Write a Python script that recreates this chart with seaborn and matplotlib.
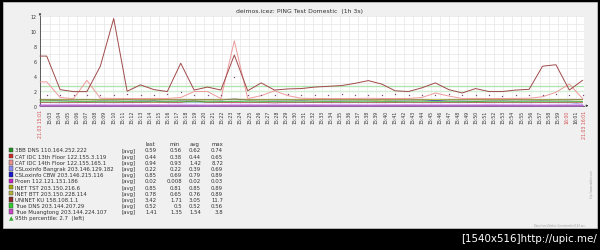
import numpy as np
import pandas as pd
import matplotlib
matplotlib.use("Agg")
import matplotlib.pyplot as plt
import seaborn as sns
from matplotlib.patches import Rectangle

sns.set_theme(style="white")
plt.rcParams['font.family'] = ['DejaVu Sans']

# ---------------- data ----------------
title = "deimos.icez: PING Test Domestic  (1h 3s)"
start_label = "21.03 15:01"
end_label = "21.03 16:01"
minute_labels = [f"15:{m:02d}" for m in range(3, 60)] + ["16:00", "16:01"]
minute_offset = 1.9

series_names = [
    "3BB DNS 110.164.252.222", "CAT IDC 13th Floor 122.155.3.119",
    "CAT IDC 14th Floor 122.155.165.1", "CSLoxinfo Bangrak 203.146.129.182",
    "CSLoxinfo CBW 203.146.215.116", "Proen 112.121.151.186",
    "INET TST 203.150.216.6", "INET BTT 203.150.228.114",
    "UNINET KU 158.108.1.1", "True DNS 203.144.207.29",
    "True Muangtong 203.144.224.107",
]
series_colors = ["#1f8f1f", "#d02828", "#e89292", "#8c8cf0", "#1818c8", "#c820c8",
                 "#a8a800", "#b4b43c", "#8c2a2a", "#2ccc2c", "#c848c8"]
line_colors = {"UNINET KU 158.108.1.1": "#a04a4a", "CAT IDC 14th Floor 122.155.165.1": "#ee9a9a",
               "Proen 112.121.151.186": "#b868d0"}
stat_last = ["0.59", "0.44", "0.94", "0.22", "0.85", "0.02", "0.85", "0.78", "3.42", "0.52", "1.41"]
stat_min = ["0.56", "0.38", "0.93", "0.22", "0.69", "0.008", "0.81", "0.65", "1.71", "0.5", "1.35"]
stat_avg = ["0.62", "0.44", "1.42", "0.39", "0.79", "0.02", "0.85", "0.76", "3.05", "0.52", "1.54"]
stat_max = ["0.74", "0.65", "8.72", "0.69", "0.89", "0.03", "0.89", "0.89", "11.7", "0.56", "3.8"]
percentile_value = 2.7
second_band = 2.0

uninet = [6.66, 2.16, 1.89, 1.89, 5.3, 11.7, 1.94, 2.8, 2.16, 1.9,
          5.7, 2.1, 2.5, 2.1, 6.8, 2.0, 3.06, 2.1, 2.25, 2.3,
          2.5, 2.6, 2.7, 3.0, 3.37, 2.9, 2.0, 1.9, 2.4, 3.06,
          2.16, 1.71, 2.3, 1.9, 1.9, 2.1, 2.2, 5.3, 5.5, 2.1, 3.42]
cat14 = [3.2, 1.1, 0.95, 3.4, 1.0, 0.98, 0.97, 0.96, 0.98, 0.97,
         1.1, 1.9, 1.9, 0.95, 8.72, 0.95, 1.35, 2.0, 1.35, 1.0,
         0.98, 0.96, 0.97, 0.98, 1.0, 0.97, 0.96, 0.98, 1.1, 1.7,
         1.3, 0.97, 0.98, 0.96, 0.97, 0.98, 1.0, 1.2, 1.8, 2.9, 0.94]
bb3 = [0.74, 0.65, 0.62, 0.6, 0.62, 0.63, 0.6, 0.61, 0.62, 0.6,
       0.63, 0.62, 0.61, 0.6, 0.62, 0.64, 0.61, 0.6, 0.62, 0.63,
       0.62, 0.6, 0.61, 0.62, 0.63, 0.61, 0.6, 0.62, 0.64, 0.62,
       0.61, 0.6, 0.56, 0.62, 0.63, 0.61, 0.62, 0.64, 0.63, 0.61, 0.59]
cat13 = [0.45, 0.44, 0.43, 0.44, 0.46, 0.44, 0.42, 0.44, 0.45, 0.43,
         0.44, 0.65, 0.44, 0.43, 0.44, 0.45, 0.44, 0.38, 0.44, 0.45,
         0.44, 0.43, 0.44, 0.45, 0.44, 0.43, 0.44, 0.46, 0.44, 0.43,
         0.44, 0.45, 0.44, 0.43, 0.44, 0.45, 0.44, 0.43, 0.44, 0.45, 0.44]
csl_bangrak = [0.4, 0.38, 0.39, 0.41, 0.4, 0.38, 0.39, 0.4, 0.69, 0.39,
               0.38, 0.4, 0.39, 0.41, 0.38, 0.39, 0.4, 0.38, 0.39, 0.4,
               0.41, 0.39, 0.38, 0.4, 0.39, 0.38, 0.41, 0.4, 0.39, 0.38,
               0.4, 0.39, 0.41, 0.38, 0.4, 0.39, 0.38, 0.4, 0.39, 0.38, 0.22]
csl_cbw = [0.8, 0.78, 0.79, 0.81, 0.78, 0.79, 0.8, 0.77, 0.79, 0.8,
           0.78, 0.79, 0.81, 0.78, 0.89, 0.79, 0.8, 0.78, 0.79, 0.77,
           0.8, 0.79, 0.78, 0.8, 0.79, 0.81, 0.78, 0.79, 0.8, 0.69,
           0.79, 0.78, 0.8, 0.79, 0.78, 0.8, 0.79, 0.78, 0.8, 0.79, 0.85]
proen = [0.02, 0.02, 0.03, 0.02, 0.02, 0.01, 0.02, 0.02, 0.03, 0.02,
         0.02, 0.02, 0.008, 0.02, 0.02, 0.03, 0.02, 0.02, 0.02, 0.02,
         0.03, 0.02, 0.02, 0.02, 0.01, 0.02, 0.02, 0.03, 0.02, 0.02,
         0.02, 0.02, 0.02, 0.03, 0.02, 0.02, 0.02, 0.01, 0.02, 0.02, 0.02]
inet_tst = [0.85, 0.84, 0.86, 0.85, 0.84, 0.85, 0.86, 0.85, 0.84, 0.85,
            0.86, 0.85, 0.84, 0.85, 0.89, 0.85, 0.84, 0.86, 0.85, 0.84,
            0.85, 0.86, 0.85, 0.84, 0.85, 0.81, 0.85, 0.86, 0.85, 0.84,
            0.85, 0.86, 0.85, 0.84, 0.85, 0.86, 0.85, 0.84, 0.85, 0.86, 0.85]
inet_btt = [0.76, 0.75, 0.77, 0.76, 0.75, 0.76, 0.77, 0.76, 0.75, 0.76,
            0.77, 0.76, 0.75, 0.76, 0.89, 0.76, 0.75, 0.77, 0.76, 0.75,
            0.76, 0.77, 0.76, 0.75, 0.76, 0.65, 0.76, 0.77, 0.76, 0.75,
            0.76, 0.77, 0.76, 0.75, 0.76, 0.77, 0.76, 0.75, 0.76, 0.77, 0.78]
true_dns = [0.52, 0.51, 0.53, 0.52, 0.51, 0.52, 0.53, 0.52, 0.51, 0.52,
            0.53, 0.52, 0.5, 0.52, 0.56, 0.52, 0.51, 0.53, 0.52, 0.51,
            0.52, 0.53, 0.52, 0.51, 0.52, 0.53, 0.52, 0.51, 0.52, 0.53,
            0.52, 0.51, 0.52, 0.53, 0.52, 0.51, 0.52, 0.53, 0.52, 0.51, 0.52]
true_muang = [1.5, 1.45, 1.5, 1.5, 1.45, 1.5, 1.55, 1.5, 1.45, 1.58,
              1.8, 1.5, 1.45, 1.5, 3.8, 1.5, 1.45, 1.5, 1.55, 1.5,
              1.45, 1.5, 1.55, 1.5, 1.45, 1.5, 1.55, 1.5, 1.45, 1.5,
              1.55, 1.5, 1.45, 1.5, 1.35, 1.5, 1.45, 1.5, 1.55, 1.5, 1.41]

line_series = {
    "Proen 112.121.151.186": proen,
    "CSLoxinfo Bangrak 203.146.129.182": csl_bangrak,
    "CAT IDC 13th Floor 122.155.3.119": cat13,
    "True DNS 203.144.207.29": true_dns,
    "3BB DNS 110.164.252.222": bb3,
    "INET BTT 203.150.228.114": inet_btt,
    "CSLoxinfo CBW 203.146.215.116": csl_cbw,
    "INET TST 203.150.216.6": inet_tst,
    "CAT IDC 14th Floor 122.155.165.1": cat14,
    "UNINET KU 158.108.1.1": uninet,
}

sample_times = [0.0] + list(np.round(np.linspace(0.74, 59.86, 41), 3))

# ---------------- figure ----------------
W, H = 600, 251
fig = plt.figure(figsize=(W / 100, H / 100), dpi=100, facecolor="black")

def fx(px):
    return px / W

def fy(py):
    return 1 - py / H

fig.patches.append(Rectangle((fx(3), fy(229)), 594 / W, 226 / H, transform=fig.transFigure,
                             facecolor="#f0f0f0", edgecolor="#d0d0d0", lw=0.5, zorder=-5))

ax = fig.add_axes([fx(40), fy(106.7), 544 / W, 89.4 / H])
ax.set_zorder(5)
ax.set_facecolor("white")

color_map = dict(zip(series_names, series_colors))
color_map.update(line_colors)
rows = []
for name, vals in line_series.items():
    full = [vals[0]] + vals
    for t, v in zip(sample_times, full):
        rows.append({"t": t, "v": v, "series": name})
df = pd.DataFrame(rows)

for name in line_series:
    sub = df[df.series == name]
    if name.startswith("Proen"):
        lw, a = 1.5, 1.0
    elif name.startswith("UNINET") or name.startswith("CAT IDC 14th"):
        lw, a = 0.7, 1.0
    else:
        lw, a = 0.55, 0.8
    sns.lineplot(data=sub, x="t", y="v", color=color_map[name], lw=lw, alpha=a, ax=ax,
                 legend=False, estimator=None, sort=False, clip_on=False, zorder=3)

dots = pd.DataFrame({"t": sample_times[1:], "v": true_muang})
sns.scatterplot(data=dots, x="t", y="v", color="#7a4a7a", s=1.0, linewidth=0, ax=ax,
                legend=False, zorder=3)

ax.axhline(percentile_value, color="#b0e4b0", lw=1.0, zorder=2)
ax.axhline(second_band, color="#d2eed2", lw=1.0, zorder=2)

ax.set_xlim(0, 60)
ax.set_ylim(0, 12)

minute_pos = [m + 1 - minute_offset for m in range(2, 61)]
for p in minute_pos:
    ax.axvline(p, color="#e6e6e6", lw=0.5, zorder=1)
for y in range(1, 13):
    ax.axhline(y, color="#e6e6e6", lw=0.5, zorder=1)

ax.set_yticks(range(0, 13, 2))
ax.set_yticklabels([str(v) for v in range(0, 13, 2)], fontsize=3.3, color="#333333")
xt = [0] + minute_pos + [60]
xl = [start_label] + minute_labels + [end_label]
ax.set_xticks(xt)
ax.set_xticklabels(xl, rotation=90, fontsize=3.3)
ax.tick_params(axis="both", length=1.5, width=0.4, pad=1.2, colors="#555555")
for lab in ax.get_xticklabels():
    if lab.get_text() in (start_label, end_label, "16:00"):
        lab.set_color("#d05050")
    else:
        lab.set_color("#333333")
for lab in ax.get_yticklabels():
    lab.set_color("#333333")

for s in ["top", "right"]:
    ax.spines[s].set_visible(False)
for s in ["left", "bottom"]:
    ax.spines[s].set_color("#404040")
    ax.spines[s].set_linewidth(0.6)
ax.set_xlabel("")
ax.set_ylabel("")
ax.annotate("", xy=(0, 12.5), xytext=(0, 11.9), xycoords="data",
            arrowprops=dict(arrowstyle="-|>", color="#404040", lw=0.5, mutation_scale=3),
            annotation_clip=False)
ax.annotate("", xy=(60.5, 0), xytext=(59.9, 0), xycoords="data",
            arrowprops=dict(arrowstyle="-|>", color="#404040", lw=0.5, mutation_scale=3),
            annotation_clip=False)

fig.text(fx(300), fy(11), title, ha="center", va="center", fontsize=4.4, color="#333333")

lfs = 3.9
hdr_y = 144.7
for txt, xc in zip(["last", "min", "avg", "max"], [150, 175, 195, 217]):
    fig.text(fx(xc), fy(hdr_y), txt, ha="center", va="center", fontsize=lfs, color="#333333")
row0, dy = 151.0, 6.17
for i, name in enumerate(series_names):
    yy = row0 + i * dy
    fig.patches.append(Rectangle((fx(8.5), fy(yy + 2.3)), 4.6 / W, 4.6 / H, transform=fig.transFigure,
                                 facecolor=series_colors[i], edgecolor="#333333", lw=0.3))
    fig.text(fx(15), fy(yy), name, ha="left", va="center", fontsize=lfs, color="#333333")
    fig.text(fx(121), fy(yy), "[avg]", ha="left", va="center", fontsize=lfs, color="#333333")
    for val, xr in zip([stat_last[i], stat_min[i], stat_avg[i], stat_max[i]], [157, 182, 201, 223]):
        fig.text(fx(xr), fy(yy), val, ha="right", va="center", fontsize=lfs, color="#333333")
yy = row0 + 11 * dy
fig.text(fx(10.8), fy(yy), "\u25b2", ha="center", va="center", fontsize=4.2, color="#33aa33")
fig.text(fx(15), fy(yy), f"95th percentile: {percentile_value}  (left)", ha="left", va="center",
         fontsize=lfs, color="#333333")

fig.text(fx(586), fy(226), "Data from Zabbix. Generated in 0.43 sec.", ha="right", va="center",
         fontsize=1.8, color="#999999")
fig.text(fx(592), fy(183), "http://www.zabbix.com", ha="center", va="center", rotation=90,
         fontsize=1.8, color="#999999")

fig.text(fx(597), fy(239.5), "[1540x516]http://upic.me/", ha="right", va="center",
         fontsize=7.4, color="white")

fig.savefig("out.png", dpi=100, facecolor="black")
